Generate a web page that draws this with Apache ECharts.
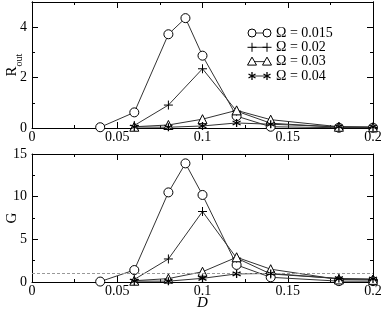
<!DOCTYPE html>
<html><head><meta charset="utf-8">
<script src="https://cdn.jsdelivr.net/npm/echarts@6/dist/echarts.min.js"></script>
<style>html,body{margin:0;padding:0;background:#fff}#c{width:382px;height:311px}</style>
</head><body><div id="c"></div>
<script>
// ---- data ----
const dOmega015 = [0.04, 0.06, 0.08, 0.09, 0.1, 0.12, 0.14, 0.18, 0.2];
const dOther    = [0.06, 0.08, 0.1, 0.12, 0.14, 0.18, 0.2];
const rOut015 = [0.03, 0.62, 3.72, 4.36, 2.87, 0.47, 0.05, 0.01, 0.01];
const rOut02  = [0.10, 0.91, 2.35, 0.67, 0.19, 0.03, 0.02];
const rOut03  = [0.05, 0.12, 0.35, 0.70, 0.33, 0.05, 0.03];
const rOut04  = [0.04, 0.03, 0.08, 0.20, 0.15, 0.05, 0.04];
const g015 = [0.05, 1.4, 10.5, 13.9, 10.2, 2.0, 0.55, 0.1, 0.1];
const g02  = [0.3, 2.7, 8.26, 2.8, 0.94, 0.4, 0.3];
const g03  = [0.15, 0.4, 1.2, 2.9, 1.5, 0.3, 0.25];
const g04  = [0.1, 0.1, 0.43, 0.95, 1.0, 0.4, 0.35];
const legendLabels = ['Ω = 0.015', 'Ω = 0.02', 'Ω = 0.03', 'Ω = 0.04'];
const gRef = 1;

const FONT = 'Liberation Serif';
const circlePath = 'path://M10,5A5,5 0 1,1 0,5A5,5 0 1,1 10,5Z';
const plusPath = 'path://M5,0L5,10M0,5L10,5';
const triPath = 'path://M5,0L10,8.7L0,8.7Z';
const starPath = 'path://M5,0L5,10M0.67,2.5L9.33,7.5M0.67,7.5L9.33,2.5';
const symbols = [circlePath, plusPath, triPath, starPath];
const sizes = [9, 9, 9, 8];

const zip = (xs, ys) => xs.map((x, i) => [x, ys[i]]);

function xAx(grid, pos, labels, extra) {
  return Object.assign({
    type: 'value', gridIndex: grid, position: pos, min: 0, max: 0.2, interval: 0.05,
    nameMoveOverlap: false,
    axisLine: {show: true, onZero: false, lineStyle: {color: '#000', width: 1}},
    axisTick: {show: true, inside: true, length: 6, lineStyle: {color: '#000'}},
    minorTick: {show: true, splitNumber: 2, length: 3, lineStyle: {color: '#000'}},
    splitLine: {show: false},
    axisLabel: {show: labels, color: '#000', fontFamily: FONT, fontSize: 14, margin: 2,
      showMinLabel: true, showMaxLabel: true, hideOverlap: false,
      formatter: v => String(+(+v).toFixed(3))}
  }, extra || {});
}
function yAx(grid, pos, min, max, interval, tickLen, labels, extra) {
  return Object.assign({
    type: 'value', gridIndex: grid, position: pos, min: min, max: max, interval: interval,
    nameMoveOverlap: false,
    axisLine: {show: true, onZero: false, lineStyle: {color: '#000', width: 1}},
    axisTick: {show: true, inside: true, length: tickLen, lineStyle: {color: '#000'}},
    splitLine: {show: false},
    axisLabel: {show: labels, color: '#000', fontFamily: FONT, fontSize: 14, margin: 5,
      showMinLabel: true, hideOverlap: false,
      formatter: v => (v === max && max === 5) ? '' : String(v)}
  }, extra || {});
}

const series = [];
const topY = [rOut015, rOut02, rOut03, rOut04];
const botY = [g015, g02, g03, g04];
for (let i = 0; i < 4; i++) {
  const xs = i === 0 ? dOmega015 : dOther;
  const base = {
    type: 'line', symbol: symbols[i], symbolSize: sizes[i], showAllSymbol: true,
    lineStyle: {color: '#333', width: 1},
    itemStyle: {color: '#fff', borderColor: '#000', borderWidth: i === 3 ? 1.3 : 1},
    animation: false, silent: true
  };
  series.push(Object.assign({}, base, {xAxisIndex: 0, yAxisIndex: 0, data: zip(xs, topY[i])}));
  series.push(Object.assign({}, base, {xAxisIndex: 2, yAxisIndex: 4, data: zip(xs, botY[i])}));
}
// reference line G = 1
series.push({
  type: 'line', xAxisIndex: 2, yAxisIndex: 4, data: [], silent: true,
  markLine: {silent: true, symbol: 'none', label: {show: false}, animation: false,
    lineStyle: {color: '#999', type: [3, 2], width: 1}, data: [{yAxis: gRef}]}
});

// legend drawn as graphic: line with marker at both ends
const legendGraphics = [];
const lx1 = 252, lx2 = 267, tx = 276, rows = [33, 47.3, 61.6, 76];
function marker(i, cx, cy) {
  const st = {stroke: '#000', lineWidth: 1, fill: '#fff'};
  if (i === 0) return [{type: 'circle', shape: {cx, cy, r: 4}, style: st}];
  if (i === 1) return [
    {type: 'line', shape: {x1: cx - 4.5, y1: cy, x2: cx + 4.5, y2: cy}, style: st},
    {type: 'line', shape: {x1: cx, y1: cy - 4.5, x2: cx, y2: cy + 4.5}, style: st}];
  if (i === 2) return [{type: 'polygon', shape: {points: [[cx, cy - 4.5], [cx - 4.5, cy + 3.5], [cx + 4.5, cy + 3.5]]}, style: st}];
  const s = Object.assign({}, st, {lineWidth: 1.3});
  return [
    {type: 'line', shape: {x1: cx, y1: cy - 4, x2: cx, y2: cy + 4}, style: s},
    {type: 'line', shape: {x1: cx - 3.5, y1: cy - 2, x2: cx + 3.5, y2: cy + 2}, style: s},
    {type: 'line', shape: {x1: cx - 3.5, y1: cy + 2, x2: cx + 3.5, y2: cy - 2}, style: s}];
}
legendLabels.forEach((lab, i) => {
  const y = rows[i];
  legendGraphics.push({type: 'line', shape: {x1: lx1, y1: y, x2: lx2, y2: y}, style: {stroke: '#333', lineWidth: 1}});
  legendGraphics.push(...marker(i, lx1, y), ...marker(i, lx2, y));
  legendGraphics.push({type: 'text', x: tx, y: y, style: {text: lab, fill: '#000', font: '14px "Liberation Serif"', verticalAlign: 'middle'}});
});

const option = {
  animation: false,
  backgroundColor: '#fff',
  grid: [
    {left: 32, right: 9, top: 2, height: 126, containLabel: false, outerBoundsMode: 'none'},
    {left: 32, right: 9, top: 154, height: 128, containLabel: false, outerBoundsMode: 'none'}
  ],
  xAxis: [
    xAx(0, 'bottom', true),
    xAx(0, 'top', false),
    xAx(1, 'bottom', true, {name: 'D', nameLocation: 'middle', nameGap: 14,
      nameTextStyle: {fontFamily: FONT, fontSize: 15, fontStyle: 'italic', color: '#000'}}),
    xAx(1, 'top', false)
  ],
  yAxis: [
    yAx(0, 'left', 0, 5, 1, 3, false),
    yAx(0, 'left', 0, 5, 2, 6, true, {name: '{a|R}{b|out}', nameLocation: 'middle', nameGap: 12, nameRotate: 90,
      nameTextStyle: {color: '#000', fontFamily: FONT,
        rich: {a: {fontFamily: FONT, fontSize: 15, color: '#000', verticalAlign: 'bottom'},
               b: {fontFamily: FONT, fontSize: 10, color: '#000', verticalAlign: 'bottom', padding: [0, 0, -4, 0]}}}}),
    yAx(0, 'right', 0, 5, 1, 3, false),
    yAx(0, 'right', 0, 5, 2, 6, false),
    yAx(1, 'left', 0, 15, 5, 6, true, {minorTick: {show: true, splitNumber: 2, length: 3, lineStyle: {color: '#000'}},
      name: 'G', nameLocation: 'middle', nameGap: 12, nameRotate: 90,
      nameTextStyle: {color: '#000', fontFamily: FONT, fontSize: 15}}),
    yAx(1, 'right', 0, 15, 5, 6, false, {minorTick: {show: true, splitNumber: 2, length: 3, lineStyle: {color: '#000'}}})
  ],
  series: series,
  graphic: legendGraphics
};
const chart = echarts.init(document.getElementById('c'), null, {renderer: 'canvas'});
chart.setOption(option);
</script></body></html>
